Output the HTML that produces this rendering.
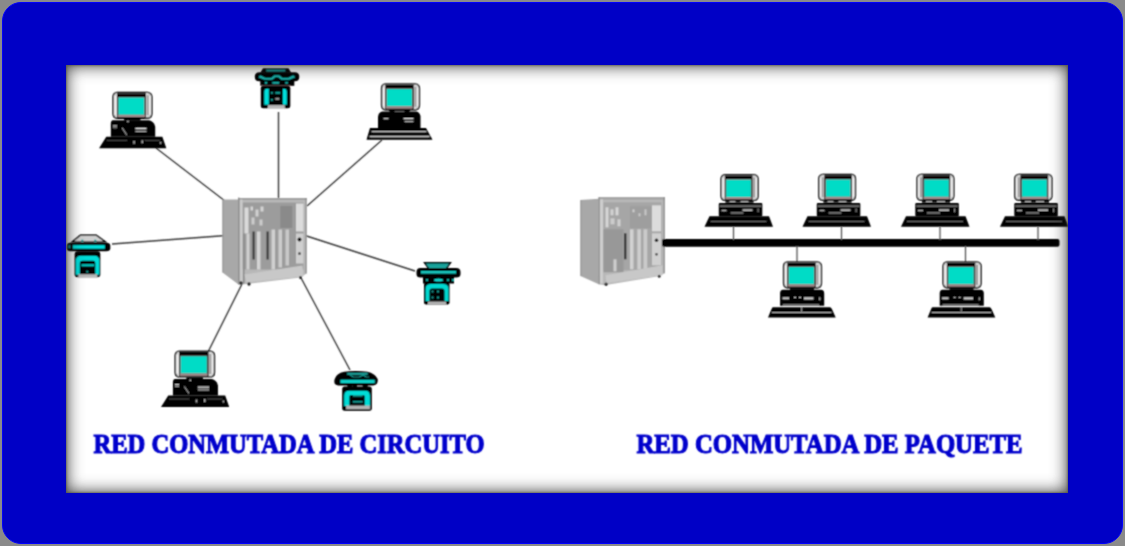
<!DOCTYPE html>
<html><head><meta charset="utf-8">
<style>
html,body{margin:0;padding:0;width:1125px;height:546px;overflow:hidden;background:#8a8a8a;}
#frame{position:absolute;left:2px;top:2px;width:1121px;height:542px;border-radius:19px;background:#0000c6;box-sizing:border-box;border:1px solid #0000ff;}
#inner{position:absolute;left:66px;top:65px;width:1002px;height:428px;background:#fff;}
#shade{position:absolute;left:66px;top:65px;width:1002px;height:428px;box-shadow:inset 0 0 2px 1px rgba(70,70,50,0.5), inset 0 0 16px 1px rgba(30,30,30,0.85);}
svg{position:absolute;left:0;top:0;}
</style></head>
<body>
<div id="frame"></div>
<div id="inner"></div>
<svg width="1125" height="546" viewBox="0 0 1125 546">
<defs>
<clipPath id="clipIn"><rect x="66" y="65" width="1002" height="428"/></clipPath>
<filter id="soft" x="-2%" y="-2%" width="104%" height="104%"><feConvolveMatrix order="3" kernelMatrix="1 2 1 2 6 2 1 2 1" divisor="18" edgeMode="none"/></filter>
<g id="monL">
  <path d="M4.5,0.6 H34 Q38.4,0.8 38.4,5 V22 Q38.4,26.2 34.4,26.4 H4.5 Q0.6,26.2 0.6,22 V5 Q0.6,0.8 4.5,0.6 Z" fill="#d8d8d8" stroke="#000" stroke-width="1.4"/>
  <rect x="4.3" y="1.5" width="28.4" height="24.5" fill="#000"/>
  <rect x="5.1" y="5" width="26.6" height="20.2" fill="#8c7272"/>
  <rect x="5.8" y="5.8" width="25.2" height="17.2" fill="#00dcc6"/>
  <rect x="5.1" y="23" width="26.6" height="2.2" fill="#a08c8c"/>
  <rect x="33.4" y="3.5" width="2" height="20" fill="#a0a0a0"/>
  <line x1="36.7" y1="4" x2="36.7" y2="23" stroke="#fff" stroke-width="1"/>
  <line x1="2.5" y1="4" x2="2.5" y2="23" stroke="#fff" stroke-width="1"/>
</g>
<g id="monR"><use href="#monL" transform="translate(39 0) scale(-1 1)"/></g>
<g id="pcL">
  <use href="#monL" x="13.7" y="0"/>
  <rect x="25" y="26.8" width="16" height="2" fill="#000"/>
  <path d="M14,28.5 H49 Q52,28.5 54.5,32 L55.5,35 V45 H12 V32 Q12,28.5 14,28.5 Z" fill="#000"/>
  <rect x="36" y="36" width="11" height="1.3" fill="#e8e8e8"/>
  <rect x="36" y="38.8" width="11" height="1.2" fill="#c8c8c8"/>
  <rect x="14" y="33.5" width="4" height="1.3" fill="#ccc"/>
  <rect x="14" y="35.5" width="4" height="1" fill="#999"/>
  <line x1="23" y1="36" x2="27.5" y2="43" stroke="#aaa" stroke-width="1"/>
  <rect x="28" y="29" width="1.5" height="1.5" fill="#bbb"/>
  <polygon points="7.5,45 62.5,45 66.4,56.4 0.5,56.4" fill="#000"/>
  <line x1="8" y1="48.5" x2="28" y2="48.5" stroke="#666" stroke-width="0.8"/>
  <line x1="45" y1="48.5" x2="60" y2="48.5" stroke="#666" stroke-width="0.8"/>
  <rect x="34" y="49" width="1.5" height="3" fill="#aaa"/>
  <rect x="42" y="48.5" width="1.5" height="3" fill="#aaa"/>
  <rect x="60" y="50" width="1.5" height="2" fill="#aaa"/>
</g>
<g id="pcL2">
  <use href="#monL" x="14.5" y="0.3"/>
  <path d="M22,27 H44 L41,31 H25 Z" fill="#000"/>
  <rect x="28" y="28" width="10" height="1.5" fill="#bbb"/>
  <path d="M16,28.5 H50 Q53,29 54,33 V45 H11.5 V34 Q12,29 16,28.5 Z" fill="#000"/>
  <rect x="17" y="35" width="5" height="1.3" fill="#bbb"/>
  <rect x="37" y="35" width="10" height="1.3" fill="#ddd"/>
  <rect x="38" y="38" width="9" height="1.2" fill="#aaa"/>
  <polygon points="3.5,45 59.5,45 66,56.8 0,56.8" fill="#000"/>
  <line x1="5" y1="48.6" x2="60" y2="48.6" stroke="#bdbdbd" stroke-width="1.1"/>
  <line x1="3" y1="53.5" x2="63" y2="53.5" stroke="#c8c8c8" stroke-width="1.3"/>
</g>
<g id="pcB">
  <use href="#monL" x="15" y="0"/>
  <rect x="22" y="26.6" width="24" height="2.2" fill="#111"/>
  <path d="M15,28.5 H53 Q56.2,28.5 56.2,32 V44.5 H12.1 V32 Q12.1,28.5 15,28.5 Z" fill="#000"/>
  <rect x="14.5" y="36" width="6.5" height="2" fill="#c8c8c8"/>
  <rect x="26" y="35.5" width="2" height="1.2" fill="#bbb"/>
  <rect x="31" y="35.5" width="2" height="1.2" fill="#bbb"/>
  <rect x="36" y="36" width="9.5" height="2.2" fill="#d0d0d0"/>
  <rect x="51" y="36" width="1.5" height="3" fill="#999"/>
  <rect x="15" y="43" width="36" height="1.2" fill="#9a9a9a"/>
  <path d="M5,46 H62 Q63,46 64,48 L67.7,56.3 H0 L3.5,48 Q4,46 5,46 Z" fill="#000"/>
  <line x1="4" y1="51.2" x2="63.5" y2="51.2" stroke="#a8a8a8" stroke-width="1.1"/>
  <rect x="33" y="46" width="1.2" height="5" fill="#888"/>
</g>
<g id="pcS">
  <rect x="21" y="26" width="28" height="2.5" fill="#111"/>
  <rect x="25" y="26.5" width="6" height="1.2" fill="#aaa"/>
  <rect x="36" y="26.5" width="8" height="1.2" fill="#aaa"/>
  <rect x="14.3" y="28.7" width="43.5" height="13.3" rx="1" fill="#000"/>
  <rect x="15.5" y="31" width="41" height="1.6" fill="#777"/>
  <rect x="17" y="35.5" width="5" height="1.5" fill="#aaa"/>
  <rect x="38" y="35" width="10" height="1.6" fill="#c8c8c8"/>
  <rect x="26" y="38" width="13" height="1.3" fill="#999"/>
  <rect x="53" y="34" width="1.2" height="4" fill="#888"/>
  <polygon points="5,42 64.5,42 68.5,52.5 0,52.5" fill="#000"/>
  <line x1="6" y1="47" x2="62" y2="47" stroke="#888" stroke-width="0.9"/>
</g>
<g id="ph">
  <path d="M8.5,0.8 H34.5 L30,7 H13 Z" fill="currentColor" stroke="#000" stroke-width="1.4"/>
  <rect x="13" y="2.6" width="17" height="1.6" fill="#14a098"/>
  <path d="M0.5,10 Q0.5,6 4.5,6 H40 Q44.5,6 44.5,10 V12 Q44.5,15.5 40,15.5 H4.5 Q0.5,15.5 0.5,12 Z" fill="#000"/>
  <rect x="5" y="9" width="35" height="2.6" fill="#12c4bc"/>
  <rect x="7" y="14.5" width="31" height="7" fill="#000"/>
  <ellipse cx="22.5" cy="18" rx="4.5" ry="1.6" fill="#10d4cc"/>
  <rect x="10" y="17" width="2" height="2" fill="#14a098"/>
  <rect x="31" y="17" width="2" height="2" fill="#14a098"/>
  <rect x="36" y="17" width="2" height="2" fill="#14a098"/>
  <rect x="8" y="20.5" width="25.5" height="22" rx="2" fill="#000"/>
  <path d="M9.5,39 V27 Q9.5,22 15,22 H27 Q32.5,22 32.5,27 V39 H28.5 V28.5 Q28.5,26.5 26,26.5 H16 Q13.5,26.5 13.5,28.5 V39 Z" fill="#00d8d0"/>
  <rect x="15.5" y="28.5" width="2" height="2" fill="#129a92"/>
  <rect x="21" y="28.5" width="2" height="2" fill="#129a92"/>
  <rect x="15.5" y="34.5" width="2" height="2" fill="#129a92"/>
  <rect x="21" y="34.5" width="2" height="2" fill="#129a92"/>
  <rect x="12" y="39.5" width="18" height="3" fill="#b4b4b4"/>
</g>
<g id="ph2">
  <path d="M14,0.5 H30 L39,7 H6 Z" fill="#d0d0d0" stroke="#000" stroke-width="1.5"/>
  <rect x="15" y="5" width="2" height="2" fill="#14a098"/>
  <rect x="28" y="5" width="2" height="2" fill="#14a098"/>
  <path d="M0.5,11 Q0.5,8 4,8 H40 Q44,8 44,11 V13.5 Q44,16.5 40,16.5 H4 Q0.5,16.5 0.5,13.5 Z" fill="#000"/>
  <rect x="6.5" y="10.5" width="32" height="3.5" fill="#00e4e0"/>
  <rect x="2" y="10.5" width="2" height="3" fill="#14a098"/>
  <rect x="8.3" y="16.5" width="25.7" height="26" rx="3" fill="#000"/>
  <path d="M9.5,40 V26 Q9.5,21 15,21 H28 Q33,21 33,26 V40 H29 V28 Q29,26 27,26 H16 Q13.5,26 13.5,28 V40 Z" fill="#00dcd8"/>
  <rect x="15" y="29.5" width="13" height="2.2" fill="#00c8c0"/>
  <rect x="20" y="36" width="2" height="2" fill="#129a92"/>
  <rect x="12" y="39.5" width="19" height="3" fill="#b8b8b8"/>
</g>
<g id="ph3">
  <path d="M8.7,0.5 H34.2 L37,5 H6 Z" fill="#000"/>
  <rect x="12" y="1.8" width="19" height="1.8" fill="#1aa49c"/>
  <path d="M0.5,9 Q0.5,4.5 5,4.5 H40.5 Q45,4.5 45,9 Q45,13.5 40.5,13.5 H5 Q0.5,13.5 0.5,9 Z" fill="#000"/>
  <path d="M6,7.5 L11,10 H17 L20,7.5 H25 L28,10 H34 L39,7.5 L41,9.5 L35,12 H27 L24,9.5 H21 L18,12 H10 L4,9.5 Z" fill="#18b4ac"/>
  <rect x="6" y="12.5" width="34" height="5.5" fill="#000"/>
  <rect x="10.5" y="14" width="2.5" height="2" fill="#18aca4"/>
  <rect x="18" y="14" width="7" height="2" fill="#18aca4"/>
  <rect x="31" y="14" width="2.5" height="2" fill="#18aca4"/>
  <rect x="7" y="17.5" width="29" height="1" fill="#806464"/>
  <rect x="6.5" y="18" width="29.5" height="22.5" rx="2.5" fill="#000"/>
  <path d="M10,37 V24 Q10,21 13,21 H14.5 V37 Z" fill="#00e0dc"/>
  <path d="M32.5,37 V24 Q32.5,21 29.5,21 H28.5 V37 Z" fill="#00e0dc"/>
  <rect x="16.5" y="24" width="2" height="2" fill="#129a92"/>
  <rect x="21" y="24" width="5" height="2" fill="#129a92"/>
  <rect x="16.5" y="31" width="2" height="2" fill="#129a92"/>
  <rect x="21" y="30" width="4" height="2" fill="#999"/>
  <rect x="13.5" y="37.3" width="17" height="3" fill="#b8b8b8"/>
</g>
<g id="ph4">
  <path d="M1.5,9 Q3,3.5 11,1.8 Q22,0 34,1.8 Q42,3.5 44.5,9 Q45.5,14.5 40,15.5 H5 Q-0.5,14.5 1.5,9 Z" fill="#000"/>
  <rect x="14" y="3" width="20.5" height="1.8" fill="#1aa49c"/>
  <path d="M17,5 L20,7 H26 L30,5 L33,7 H36" stroke="#14a098" stroke-width="1.2" fill="none"/>
  <rect x="7.2" y="9.7" width="34.3" height="3.3" fill="#10d0c8"/>
  <circle cx="16.7" cy="15.5" r="2.6" fill="#000"/>
  <circle cx="21.5" cy="16" r="2.4" fill="#000"/>
  <circle cx="32" cy="15.5" r="2.6" fill="#000"/>
  <rect x="9" y="16.4" width="29.6" height="24.3" rx="2.5" fill="#000"/>
  <path d="M11,36 V25.5 Q11,20.7 16,20.7 H32 Q36.7,20.7 36.7,25.5 V36 H31.5 V26.5 Q31.5,25 30,25 H18 Q16.2,25 16.2,26.5 V36 Z" fill="#00dcd6"/>
  <rect x="19.5" y="25" width="10" height="1.6" fill="#129a92"/>
  <rect x="19.5" y="31" width="10" height="1.6" fill="#129a92"/>
  <rect x="12.9" y="35.5" width="23.8" height="3.5" fill="#b4b4b4"/>
</g>
<g id="hub2">
  <polygon points="0,2.8 18.3,1.5 18.3,87 0,78.8" fill="#a8a8a8"/>
  <line x1="0.5" y1="2.8" x2="0.5" y2="78.8" stroke="#909090" stroke-width="1"/>
  <polygon points="18.3,0 84.2,0 84.2,76 78,79 24,88 18.3,87" fill="#b8b8b8"/>
  <rect x="18.3" y="0" width="66" height="2.2" fill="#a2a2a2"/>
  <rect x="23" y="5" width="58" height="68" fill="#a6a6a6"/>
  <line x1="18.6" y1="0" x2="18.6" y2="87" stroke="#888" stroke-width="1.2"/>
  <rect x="19.5" y="2" width="3" height="84" fill="#cdcdcd"/>
  <rect x="23" y="32" width="20" height="43" fill="#989898"/>
  <rect x="25" y="10" width="3" height="20" fill="#d6d6d6"/>
  <rect x="30" y="12" width="3" height="6" fill="#d2d2d2"/>
  <rect x="35" y="10" width="3" height="8" fill="#d6d6d6"/>
  <rect x="30" y="21" width="4" height="6" fill="#cccccc"/>
  <rect x="37" y="22" width="3" height="7" fill="#d0d0d0"/>
  <rect x="33" y="62" width="3" height="12" fill="#cfcfcf"/>
  <rect x="43.5" y="36" width="2.5" height="26" fill="#383838"/>
  <rect x="49.5" y="32" width="3.5" height="40" fill="#d2d2d2"/>
  <rect x="56.8" y="32" width="3.6" height="40" fill="#cecece"/>
  <rect x="63" y="32" width="3.8" height="40" fill="#cacaca"/>
  <rect x="49.5" y="9" width="21.5" height="22" fill="#9e9e9e"/>
  <rect x="52" y="12" width="2" height="3" fill="#cfcfcf"/>
  <rect x="58" y="16" width="2" height="3" fill="#c8c8c8"/>
  <rect x="64" y="12" width="2" height="6" fill="#c8c8c8"/>
  <rect x="71.5" y="8" width="9" height="26" fill="#dcdcdc"/>
  <rect x="71.5" y="36" width="9" height="32" fill="#d0d0d0"/>
  <circle cx="76" cy="43" r="1.8" fill="#222"/>
  <circle cx="76" cy="57" r="1.4" fill="#555"/>
  <line x1="83.6" y1="0" x2="83.6" y2="76" stroke="#8a8a8a" stroke-width="1.2"/>
  <polygon points="25,78 82,68 82,78 26,86" fill="#c8c8c8"/>
  <circle cx="25.6" cy="87" r="1.7" fill="#333"/>
  <circle cx="78.7" cy="79" r="1.5" fill="#333"/>
</g>
<g id="hub">
  <polygon points="0,2 16,2 16,87 0,75" fill="#a8a8a8"/>
  <line x1="0.5" y1="2" x2="0.5" y2="75" stroke="#909090" stroke-width="1"/>
  <polygon points="16,0.5 84,0.5 84,76 78,80 20,87 16,87" fill="#b8b8b8"/>
  <rect x="16" y="0.5" width="68" height="2" fill="#a0a0a0"/>
  <rect x="20" y="5" width="61" height="67" fill="#9c9c9c"/>
  <line x1="16.3" y1="0" x2="16.3" y2="87" stroke="#848484" stroke-width="1.2"/>
  <rect x="17.5" y="2" width="2.5" height="84" fill="#cacaca"/>
  <rect x="22" y="10" width="4" height="26" fill="#dadada"/>
  <rect x="28" y="9" width="2.5" height="4" fill="#d4d4d4"/>
  <rect x="33" y="12" width="3" height="7" fill="#d0d0d0"/>
  <rect x="38" y="9" width="3" height="5" fill="#d4d4d4"/>
  <rect x="29" y="20" width="3" height="7" fill="#cccccc"/>
  <rect x="37" y="22" width="3" height="6" fill="#cccccc"/>
  <rect x="20.5" y="36" width="1.5" height="50" fill="#8a8a8a"/>
  <rect x="24" y="36" width="3" height="36" fill="#d0d0d0"/>
  <rect x="30" y="34" width="2.2" height="28" fill="#3a3a3a"/>
  <rect x="34.5" y="34" width="3.5" height="38" fill="#d4d4d4"/>
  <rect x="44" y="34" width="2.2" height="28" fill="#3a3a3a"/>
  <rect x="49" y="32" width="3.5" height="40" fill="#d0d0d0"/>
  <rect x="56" y="32" width="3.5" height="38" fill="#cccccc"/>
  <rect x="63" y="32" width="3.5" height="36" fill="#c8c8c8"/>
  <rect x="57.8" y="8.4" width="12" height="22" fill="#8a8a8a"/>
  <rect x="73.5" y="6" width="7.5" height="28" fill="#dcdcdc"/>
  <rect x="73.5" y="36" width="7.5" height="30" fill="#cfcfcf"/>
  <circle cx="77" cy="42" r="2" fill="#111"/>
  <circle cx="77" cy="56" r="1.5" fill="#555"/>
  <line x1="83.5" y1="0.5" x2="83.5" y2="76" stroke="#8a8a8a" stroke-width="1.2"/>
  <polygon points="22,77 80,68 81,79 24,85" fill="#c8c8c8"/>
  <circle cx="18.5" cy="85.5" r="1.7" fill="#222"/>
  <circle cx="26.5" cy="86.5" r="1.7" fill="#222"/>
  <circle cx="78" cy="80" r="1.5" fill="#222"/>
</g>
</defs>
<g clip-path="url(#clipIn)"><g filter="url(#soft)">



<g stroke="#383838" stroke-width="1.4" fill="none">
<line x1="156" y1="148" x2="225" y2="201"/>
<line x1="278.5" y1="112" x2="278.5" y2="198"/>
<line x1="382" y1="140" x2="307" y2="206"/>
<line x1="112" y1="244" x2="226" y2="235.5"/>
<line x1="305" y1="235.5" x2="415" y2="271"/>
<line x1="243" y1="282" x2="208" y2="352"/>
<line x1="300" y1="276" x2="350" y2="370"/>
</g>

<use href="#hub" x="222.5" y="197.5"/>
<use href="#hub2" x="580.5" y="197.3"/>

<use href="#pcL" transform="translate(98.6 91.8) scale(1.02 1)"/>
<use href="#pcL2" x="366.5" y="83"/>
<use href="#pcL" transform="translate(160.5 350.5) scale(1.035 1)"/>

<use href="#ph3" x="254.3" y="67.8"/>
<use href="#ph2" x="66.3" y="234.7"/>
<use href="#ph" x="416" y="262" color="#1ea69e"/>
<use href="#ph4" x="333.2" y="370"/>

<rect x="662" y="239" width="397.5" height="7.8" rx="2" fill="#000"/>
<g stroke="#555" stroke-width="1.3">
<line x1="733.5" y1="227" x2="733.5" y2="240"/>
<line x1="841.5" y1="227" x2="841.5" y2="240"/>
<line x1="940" y1="227" x2="940" y2="240"/>
<line x1="1038" y1="227" x2="1038" y2="240"/>
<line x1="797" y1="246" x2="797" y2="262"/>
<line x1="965.5" y1="246" x2="965.5" y2="262"/>
</g>
<use href="#pcS" x="704.5" y="174.3"/>
<use href="#monL" transform="translate(720.6 174) scale(0.975 1)"/>
<use href="#pcS" x="802.5" y="174.3"/>
<use href="#monR" transform="translate(818.2 173.8) scale(0.97 1)"/>
<use href="#pcS" x="901" y="174.3"/>
<use href="#monR" transform="translate(916.5 173.8) scale(0.97 1)"/>
<use href="#pcS" x="1000" y="174.3"/>
<use href="#monR" transform="translate(1014.2 173.8) scale(0.98 1)"/>
<use href="#pcB" x="768" y="261.3"/>
<use href="#pcB" x="927.6" y="261.3"/>

<g font-family="Liberation Serif" font-weight="bold" font-size="27.2" fill="#0000cc" stroke="#0000cc" stroke-width="1.1">
<text x="93.5" y="453.4" textLength="391" lengthAdjust="spacingAndGlyphs">RED CONMUTADA DE CIRCUITO</text>
<text x="636.5" y="453.4" textLength="386" lengthAdjust="spacingAndGlyphs">RED CONMUTADA DE PAQUETE</text>
</g>
</g>
</g>
</svg>
<div id="shade"></div>
</body></html>
